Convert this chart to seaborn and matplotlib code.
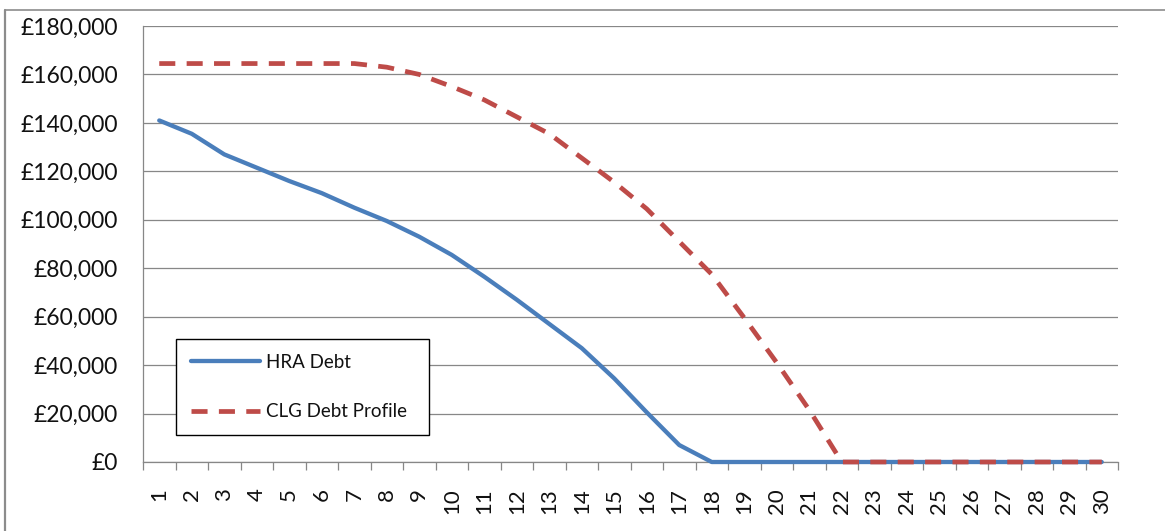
import matplotlib
matplotlib.use("Agg")
import matplotlib.pyplot as plt
import seaborn as sns
import pandas as pd
from matplotlib.lines import Line2D
from matplotlib.ticker import FuncFormatter, FixedLocator

# Debt profile by year (£)
years = list(range(1, 31))
hra_debt = [141000, 135500, 127000, 121500, 116000, 111000, 105000, 99500, 93000, 85500,
            76500, 67000, 57000, 47000, 34500, 20500, 7000, 0, 0, 0,
            0, 0, 0, 0, 0, 0, 0, 0, 0, 0]
clg_debt_profile = [164500, 164500, 164500, 164500, 164500, 164500, 164500, 163000, 160000, 155000,
                    149500, 142500, 135500, 125500, 115500, 104500, 91000, 77500, 59500, 41000,
                    21500, 0, 0, 0, 0, 0, 0, 0, 0, 0]
series_names = ["HRA Debt", "CLG Debt Profile"]
y_ticks = [0, 20000, 40000, 60000, 80000, 100000, 120000, 140000, 160000, 180000]

df = pd.DataFrame({"Year": years, series_names[0]: hra_debt, series_names[1]: clg_debt_profile})

sns.set_style("white")
plt.rcParams["font.family"] = ["Lato", "DejaVu Sans"]

W, H, DPI = 1165, 531, 100
fig = plt.figure(figsize=(W / DPI, H / DPI), dpi=DPI)
fig.patch.set_facecolor("white")

left, right, top, bottom = 143, 1118, 26, 462
ax = fig.add_axes([left / W, (H - bottom) / H, (right - left) / W, (bottom - top) / H])

grid_col = "#878787"
blue = "#4A7EBB"
red = "#BE4B48"

sns.lineplot(data=df, x="Year", y=series_names[0], ax=ax, color=blue, lw=3.1,
             label=series_names[0], clip_on=False, zorder=3)
sns.lineplot(data=df, x="Year", y=series_names[1], ax=ax, color=red, lw=3.4,
             label=series_names[1], clip_on=False, zorder=4)
ax.lines[1].set_dashes((3.4, 2.4))
for ln in ax.lines:
    ln.set_solid_joinstyle("round")

ax.set_xlim(0.5, 30.5)
ax.set_ylim(0, 180000)

# y axis
ax.yaxis.set_major_locator(FixedLocator(y_ticks))
ax.yaxis.set_major_formatter(FuncFormatter(lambda v, p: "£{:,.0f}".format(v)))
ax.yaxis.grid(True, color=grid_col, lw=0.9)
ax.tick_params(axis="y", length=6, width=0.9, color=grid_col, pad=12, labelsize=16.5, labelcolor="#111111")

# x axis: labels at categories, tick marks between categories
ax.xaxis.set_major_locator(FixedLocator(years))
ax.xaxis.set_minor_locator(FixedLocator([y + 0.5 for y in [0] + years]))
ax.set_xticklabels([str(y) for y in years], rotation=90)
ax.tick_params(axis="x", which="major", length=0, pad=19, labelsize=16, labelcolor="#111111")
ax.tick_params(axis="x", which="minor", length=6, width=0.9, color=grid_col, bottom=True)

ax.set_xlabel("")
ax.set_ylabel("")
for s in ["top", "right"]:
    ax.spines[s].set_visible(False)
for s in ["left", "bottom"]:
    ax.spines[s].set_color(grid_col)
    ax.spines[s].set_linewidth(0.9)
ax.set_axisbelow(True)

# legend box
x0 = (176 - left) / (right - left)
x1 = (429 - left) / (right - left)
y1 = (bottom - 339) / (bottom - top)
leg = ax.legend(loc="upper left", bbox_to_anchor=(x0, y1, x1 - x0, 0.0), mode="expand",
                borderaxespad=0, fontsize=13.5, frameon=True, fancybox=False, framealpha=1,
                edgecolor="black", borderpad=0.8, labelspacing=1.72, handlelength=3.7,
                handletextpad=0.3)
leg.get_frame().set_linewidth(1.0)
for t in leg.get_texts():
    t.set_color("#111111")

# chart-area border (top and left edges)
fig.add_artist(Line2D([5 / W, 1.0], [1 - 10 / H, 1 - 10 / H], transform=fig.transFigure,
                      color="#8c8c8c", lw=1.2))
fig.add_artist(Line2D([5 / W, 5 / W], [0.0, 1 - 10 / H], transform=fig.transFigure,
                      color="#8c8c8c", lw=1.6))

fig.savefig("out.png", dpi=DPI, facecolor="white")
